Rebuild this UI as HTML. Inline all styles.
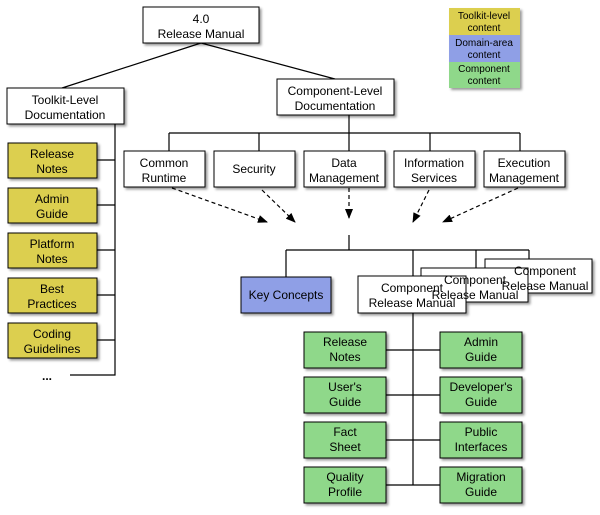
<!DOCTYPE html><html><head><style>
body{margin:0;background:#fff;}
svg text{font-family:"Liberation Sans",sans-serif;font-size:12px;text-anchor:middle;fill:#000}
</style></head><body>
<svg width="600" height="510" viewBox="0 0 600 510" xmlns="http://www.w3.org/2000/svg">
<defs>
<filter id="s" x="-10%" y="-10%" width="130%" height="140%"><feDropShadow dx="2" dy="2" stdDeviation="1.2" flood-color="#000" flood-opacity="0.4"/></filter>
<marker id="a" markerWidth="10" markerHeight="8" refX="9" refY="4" orient="auto" markerUnits="userSpaceOnUse"><path d="M0,0 L10,4 L0,8 z" fill="#000"/></marker>
</defs>
<g stroke="#000" stroke-width="1.2" fill="none">
<line x1="201" y1="43" x2="62" y2="88"/>
<line x1="201" y1="43" x2="335" y2="79"/>
<polyline points="115,124 115,375 70,375"/>
<line x1="97" y1="160" x2="115" y2="160"/>
<line x1="97" y1="205" x2="115" y2="205"/>
<line x1="97" y1="250" x2="115" y2="250"/>
<line x1="97" y1="295" x2="115" y2="295"/>
<line x1="97" y1="340" x2="115" y2="340"/>
<line x1="349" y1="115" x2="349" y2="151"/>
<line x1="169" y1="133" x2="520" y2="133"/>
<line x1="169" y1="133" x2="169" y2="151"/>
<line x1="259" y1="133" x2="259" y2="151"/>
<line x1="430" y1="133" x2="430" y2="151"/>
<line x1="520" y1="133" x2="520" y2="151"/>
<line x1="349" y1="235" x2="349" y2="250"/>
<line x1="286" y1="250" x2="529" y2="250"/>
<line x1="286" y1="250" x2="286" y2="277"/>
<line x1="413" y1="250" x2="413" y2="485"/>
<line x1="476" y1="250" x2="476" y2="268"/>
<line x1="529" y1="250" x2="529" y2="259"/>
<line x1="386" y1="350" x2="440" y2="350"/>
<line x1="386" y1="395" x2="440" y2="395"/>
<line x1="386" y1="440" x2="440" y2="440"/>
<line x1="386" y1="485" x2="440" y2="485"/>
</g>
<g stroke="#000" stroke-width="1.2" stroke-dasharray="4,3" marker-end="url(#a)">
<line x1="172" y1="188" x2="267" y2="222"/>
<line x1="262" y1="190" x2="295" y2="222"/>
<line x1="349" y1="188" x2="349" y2="218"/>
<line x1="429" y1="190" x2="413" y2="222"/>
<line x1="518" y1="188" x2="443" y2="222"/>
</g>
<g stroke="#000" stroke-width="1" filter="url(#s)">
<rect x="143" y="7" width="116" height="36" fill="#fff"/>
<rect x="7" y="88" width="117" height="36" fill="#fff"/>
<rect x="277" y="79" width="117" height="36" fill="#fff"/>
<rect x="124" y="151" width="81" height="36" fill="#fff"/>
<rect x="214" y="151" width="81" height="36" fill="#fff"/>
<rect x="304" y="151" width="81" height="36" fill="#fff"/>
<rect x="394" y="151" width="81" height="36" fill="#fff"/>
<rect x="484" y="151" width="81" height="36" fill="#fff"/>
<rect x="8" y="143" width="89" height="35" fill="#dccf4f"/>
<rect x="8" y="188" width="89" height="35" fill="#dccf4f"/>
<rect x="8" y="233" width="89" height="35" fill="#dccf4f"/>
<rect x="8" y="278" width="89" height="35" fill="#dccf4f"/>
<rect x="8" y="323" width="89" height="35" fill="#dccf4f"/>
<rect x="241" y="277" width="90" height="36" fill="#8f9fe6"/>
<rect x="485" y="259" width="107" height="34" fill="#fff"/>
<rect x="421" y="268" width="107" height="34" fill="#fff"/>
<rect x="358" y="276" width="108" height="37" fill="#fff"/>
<rect x="304" y="332" width="82" height="36" fill="#8fd88a"/>
<rect x="304" y="377" width="82" height="36" fill="#8fd88a"/>
<rect x="304" y="422" width="82" height="36" fill="#8fd88a"/>
<rect x="304" y="467" width="82" height="36" fill="#8fd88a"/>
<rect x="440" y="332" width="82" height="36" fill="#8fd88a"/>
<rect x="440" y="377" width="82" height="36" fill="#8fd88a"/>
<rect x="440" y="422" width="82" height="36" fill="#8fd88a"/>
<rect x="440" y="467" width="82" height="36" fill="#8fd88a"/>
</g>
<g filter="url(#s)">
<rect x="449" y="8" width="71" height="27" fill="#dccf4f"/>
<rect x="449" y="35" width="71" height="27" fill="#8f9fe6"/>
<rect x="449" y="62" width="71" height="26" fill="#8fd88a"/>
</g>
<text x="201" y="23">4.0</text><text x="201" y="38">Release Manual</text>
<text x="65" y="104">Toolkit-Level</text><text x="65" y="119">Documentation</text>
<text x="335" y="95">Component-Level</text><text x="335" y="110">Documentation</text>
<text x="164" y="167">Common</text><text x="164" y="182">Runtime</text>
<text x="254" y="173">Security</text>
<text x="344" y="167">Data</text><text x="344" y="182">Management</text>
<text x="434" y="167">Information</text><text x="434" y="182">Services</text>
<text x="524" y="167">Execution</text><text x="524" y="182">Management</text>
<text x="52" y="158">Release</text><text x="52" y="173">Notes</text>
<text x="52" y="203">Admin</text><text x="52" y="218">Guide</text>
<text x="52" y="248">Platform</text><text x="52" y="263">Notes</text>
<text x="52" y="293">Best</text><text x="52" y="308">Practices</text>
<text x="52" y="338">Coding</text><text x="52" y="353">Guidelines</text>
<text x="47" y="380" style="font-weight:bold">...</text>
<text x="286" y="299">Key Concepts</text>
<text x="545" y="275">Component</text><text x="545" y="290">Release Manual</text>
<text x="475" y="284">Component</text><text x="475" y="299">Release Manual</text>
<text x="412" y="292">Component</text><text x="412" y="307">Release Manual</text>
<text x="345" y="346">Release</text><text x="345" y="361">Notes</text>
<text x="345" y="391">User's</text><text x="345" y="406">Guide</text>
<text x="345" y="436">Fact</text><text x="345" y="451">Sheet</text>
<text x="345" y="481">Quality</text><text x="345" y="496">Profile</text>
<text x="481" y="346">Admin</text><text x="481" y="361">Guide</text>
<text x="481" y="391">Developer's</text><text x="481" y="406">Guide</text>
<text x="481" y="436">Public</text><text x="481" y="451">Interfaces</text>
<text x="481" y="481">Migration</text><text x="481" y="496">Guide</text>
<g style="font-size:10px">
<text x="484" y="19" style="font-size:10px">Toolkit-level</text><text x="484" y="31" style="font-size:10px">content</text>
<text x="484" y="46" style="font-size:10px">Domain-area</text><text x="484" y="58" style="font-size:10px">content</text>
<text x="484" y="72" style="font-size:10px">Component</text><text x="484" y="84" style="font-size:10px">content</text>
</g>
</svg>
</body></html>
